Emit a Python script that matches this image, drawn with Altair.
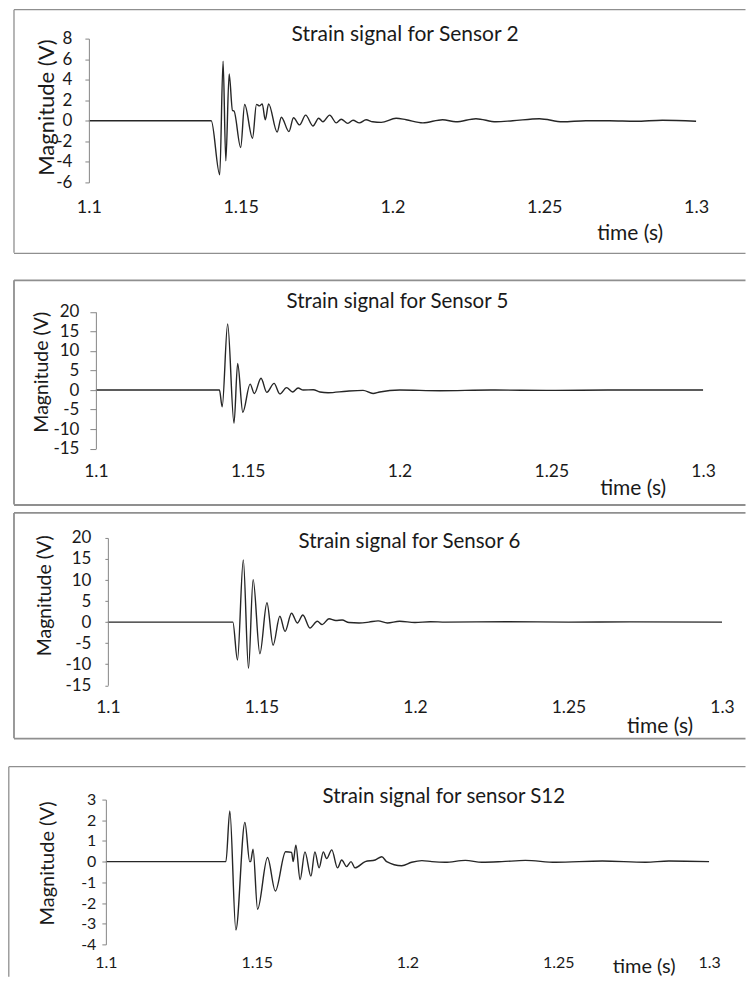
import altair as alt
import pandas as pd

# ---------------- data ----------------
x_ticks = [1.1, 1.15, 1.2, 1.25, 1.3]

# Sensor 2
t_s2 = [1.1, 1.12, 1.1403, 1.1431, 1.1442, 1.1451, 1.1462, 1.1473, 1.1478, 1.15,
        1.1513, 1.1539, 1.1552, 1.1562, 1.1571, 1.1581, 1.1592, 1.162, 1.1634, 1.1659,
        1.1674, 1.1694, 1.1714, 1.1738, 1.1757, 1.1771, 1.1793, 1.1815, 1.1831, 1.1853,
        1.187, 1.1891, 1.1913, 1.1935, 1.1963, 1.2012, 1.2045, 1.21, 1.2165, 1.2209,
        1.2275, 1.2341, 1.2396, 1.2484, 1.256, 1.2637, 1.2714, 1.2801, 1.2889, 1.3]
v_s2 = [0, 0, 0, -5.25, 5.8, -3.9, 4.55, 1.0, 0.95, -2.6,
        1.58, -1.7, 1.6, 1.45, 1.65, 0.1, 1.65, -1.1, 0.35, -1.05,
        0.3, -0.4, 0.55, -0.5, 0.25, -0.1, 0.55, -0.2, 0.15, -0.25,
        0.05, -0.2, 0.1, -0.1, -0.15, 0.25, 0.1, -0.2, 0.1, -0.1,
        0.2, -0.1, 0, 0.2, -0.1, 0, 0, -0.05, 0.05, -0.05]
y_ticks_s2 = [-6, -4, -2, 0, 2, 4, 6, 8]

# Sensor 5
t_s5 = [1.1, 1.12, 1.1407, 1.1416, 1.1434, 1.1455, 1.1467, 1.1484, 1.1508, 1.1522,
        1.1544, 1.1563, 1.1587, 1.1606, 1.1628, 1.1648, 1.1666, 1.1683, 1.1716, 1.1738,
        1.1765, 1.1826, 1.188, 1.1913, 1.1935, 1.2001, 1.2133, 1.23, 1.25, 1.27, 1.3]
v_s5 = [0, 0, 0, -4.3, 16.9, -8.5, 6.8, -5.7, 1.5, -0.9,
        3.0, -0.6, 1.7, -1.0, 0.6, -0.5, 0.5, 0, 0.05, -0.5,
        -0.7, -0.3, -0.1, -0.9, -0.5, 0, -0.2, 0, -0.1, 0, 0]
y_ticks_s5 = [-15, -10, -5, 0, 5, 10, 15, 20]

# Sensor 6
t_s6 = [1.1, 1.12, 1.1407, 1.1422, 1.1441, 1.1458, 1.1473, 1.1495, 1.1518, 1.1538,
        1.156, 1.1577, 1.1598, 1.1617, 1.1635, 1.1658, 1.1682, 1.1698, 1.172, 1.1742,
        1.1763, 1.1785, 1.1818, 1.185, 1.188, 1.191, 1.195, 1.2, 1.205, 1.21,
        1.23, 1.25, 1.27, 1.3]
v_s6 = [0, 0, 0, -9, 14.8, -11, 10.1, -7.5, 4.6, -5.5,
        1.4, -2.2, 2.1, -0.2, 1.7, -1.4, 0.2, -0.6, 0.8, 0.4,
        0.5, -0.1, -0.2, 0, 0.3, -0.2, 0.2, -0.1, 0.1, 0,
        0.1, 0, 0.05, 0]
y_ticks_s6 = [-15, -10, -5, 0, 5, 10, 15, 20]

# Sensor S12
t_s12 = [1.1, 1.12, 1.1398, 1.1411, 1.1431, 1.1461, 1.1477, 1.148, 1.1488, 1.1503,
         1.1536, 1.1562, 1.1596, 1.1616, 1.1621, 1.163, 1.1644, 1.166, 1.168, 1.1693,
         1.1707, 1.1721, 1.1732, 1.1749, 1.1768, 1.1782, 1.1798, 1.1813, 1.1826, 1.186,
         1.1893, 1.1915, 1.1931, 1.1981, 1.2014, 1.2048, 1.2081, 1.2125, 1.2192, 1.2247,
         1.2313, 1.2391, 1.2491, 1.2646, 1.279, 1.2867, 1.3]
v_s12 = [0, 0, 0, 2.45, -3.3, 1.9, 0, 0, 0.6, -2.3,
         0.2, -1.42, 0.48, 0.45, 0, 0.8, -0.87, 0.47, -0.7, 0.47,
         -0.3, 0.47, 0.15, 0.57, -0.3, 0.08, -0.24, 0, -0.3, 0,
         0.08, 0.24, 0, -0.2, -0.03, 0.05, 0, -0.03, 0.06, -0.03,
         0, 0.06, -0.03, 0.03, -0.03, 0.03, 0]
y_ticks_s12 = [-4, -3, -2, -1, 0, 1, 2, 3]

titles = ["Strain signal for Sensor 2", "Strain signal for Sensor 5",
          "Strain signal for Sensor  6", "Strain signal for sensor S12"]

# ---------------- layout (page pixel geometry) ----------------
FONT = "Lato"
TXT = "#1a1a1a"
AXC = "#868686"
BOX = "#8f8f8f"
ORIG = 8          # page margin
VIEW_W = 739      # page x 8 .. 747 (keeps the page from overflowing)

geoms = [
    dict(left=89, right=697, top=38, bottom=182, s0=8, s1=266,
         bl=14, bt=9, bb=253, tx=292, ty=40, tfs=21, yx=47, yy=107, yfs=22,
         mx=631, my=234, mfs=21, xly=207, xfs=18, yfs_l=17, ts=4, lp=13, bw=1.3),
    dict(left=96, right=704, top=311.7, bottom=448.5, s0=266, s1=509,
         bl=14, bt=280, bb=505, tx=287, ty=308, tfs=20.5, yx=42, yy=372, yfs=19.5,
         mx=634, my=489, mfs=21, xly=471.7, xfs=17.5, yfs_l=17, ts=6, lp=11, bw=1.8),
    dict(left=108, right=723, top=538, bottom=685.5, s0=509, s1=753,
         bl=14, bt=513, bb=739, tx=299, ty=548, tfs=20.5, yx=45, yy=596, yfs=19.5,
         mx=661, my=727, mfs=21, xly=708, xfs=17.5, yfs_l=17, ts=3, lp=14, bw=1.8),
    dict(left=106, right=710, top=800, bottom=945, s0=753, s1=978,
         bl=8.8, bt=767, bb=None, tx=323, ty=803, tfs=20.5, yx=48, yy=864, yfs=20,
         mx=645, my=967.5, mfs=20, xly=963, xfs=16, yfs_l=16, ts=4, lp=6, bw=1.3),
]


def panel(t, v, yt, title, g):
    s0, s1 = g["s0"], g["s1"]
    H = s1 - s0

    def px(X):
        return X - ORIG

    def py(Y):
        return Y - s0

    one = pd.DataFrame({"k": [0]})
    df = pd.DataFrame({"t": t, "v": v})

    bottom_edge = g["bb"] if g["bb"] is not None else s1
    right_edge = VIEW_W - 0.5
    bw = g["bw"]
    rules = [
        alt.Chart(one).mark_rule(color=BOX, strokeWidth=bw).encode(
            x=alt.value(px(g["bl"])), x2=alt.value(right_edge),
            y=alt.value(py(g["bt"])), y2=alt.value(py(g["bt"]))),
        alt.Chart(one).mark_rule(color=BOX, strokeWidth=bw).encode(
            x=alt.value(px(g["bl"])), x2=alt.value(px(g["bl"])),
            y=alt.value(py(g["bt"])), y2=alt.value(py(bottom_edge) - 0.5)),
    ]
    if g["bb"] is not None:
        rules.append(alt.Chart(one).mark_rule(color=BOX, strokeWidth=bw).encode(
            x=alt.value(px(g["bl"])), x2=alt.value(right_edge),
            y=alt.value(py(g["bb"])), y2=alt.value(py(g["bb"]))))

    line = alt.Chart(df).mark_line(
        color="#262626", strokeWidth=1.4, interpolate="monotone").encode(
        x=alt.X("t:Q",
                scale=alt.Scale(domain=[1.1, 1.3], nice=False, zero=False,
                                range=[px(g["left"]), px(g["right"])]),
                axis=alt.Axis(values=x_ticks, domain=False, ticks=False, tickSize=0,
                              grid=False, title=None, format="~g",
                              offset=py(g["bottom"]) - H,
                              labelPadding=g["xly"] - g["bottom"],
                              labelBaseline="middle", labelFlush=False,
                              labelOverlap=False, labelFont=FONT,
                              labelFontSize=g["xfs"], labelColor=TXT, zindex=1)),
        y=alt.Y("v:Q",
                scale=alt.Scale(domain=[yt[0], yt[-1]], nice=False, zero=False,
                                range=[py(g["bottom"]), py(g["top"])]),
                axis=alt.Axis(values=yt, grid=False, title=None,
                              offset=-px(g["left"]),
                              labelExpr="'' + datum.value",
                              domainColor=AXC, tickColor=AXC, tickSize=g["ts"],
                              labelPadding=g["lp"], labelOverlap=False,
                              labelFont=FONT, labelFontSize=g["yfs_l"],
                              labelColor=TXT, zindex=1)),
    )

    ttl = alt.Chart(one).mark_text(
        text=title, font=FONT, fontSize=g["tfs"], color=TXT,
        align="left", baseline="alphabetic").encode(
        x=alt.value(px(g["tx"])), y=alt.value(py(g["ty"])))

    ytl = alt.Chart(one).mark_text(
        text="Magnitude (V)", font=FONT, fontSize=g["yfs"], color=TXT,
        align="center", baseline="middle", angle=270).encode(
        x=alt.value(px(g["yx"])), y=alt.value(py(g["yy"])))

    xtl = alt.Chart(one).mark_text(
        text="time (s)", font=FONT, fontSize=g["mfs"], color=TXT,
        align="center", baseline="middle").encode(
        x=alt.value(px(g["mx"])), y=alt.value(py(g["my"])))

    return alt.layer(*rules, line, ttl, ytl, xtl).properties(width=VIEW_W, height=H)


panels = [
    panel(t_s2, v_s2, y_ticks_s2, titles[0], geoms[0]),
    panel(t_s5, v_s5, y_ticks_s5, titles[1], geoms[1]),
    panel(t_s6, v_s6, y_ticks_s6, titles[2], geoms[2]),
    panel(t_s12, v_s12, y_ticks_s12, titles[3], geoms[3]),
]

chart = (alt.vconcat(*panels, spacing=0)
         .properties(padding=0)
         .configure_view(stroke=None, fill="white"))

chart.save("out.html", embed_options={"renderer": "svg", "actions": False})
